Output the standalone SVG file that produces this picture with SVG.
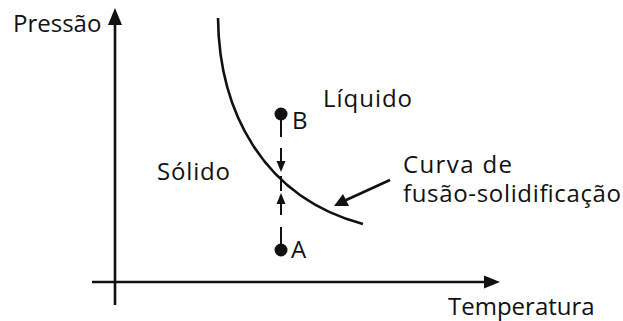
<svg xmlns="http://www.w3.org/2000/svg" width="623" height="321" viewBox="0 0 623 321">
<style>
text{font-family:"Open Sans","Noto Sans",sans-serif;font-size:24px;fill:#111}
.ax{stroke:#111;stroke-width:2.6;fill:none}
.cv{stroke:#111;stroke-width:2.6;fill:none}
.ds{stroke:#111;stroke-width:2;fill:none}
.hd{fill:#111;stroke:none}
</style>
<rect width="623" height="321" fill="#fff"/>
<g id="axes">
<line class="ax" x1="115" y1="305" x2="115" y2="22"/>
<polygon class="hd" points="115,8 108,25 122,25"/>
<line class="ax" x1="92" y1="282" x2="487" y2="282"/>
<polygon class="hd" points="500,282 484,275.5 484,288.5"/>
<text x="13" y="32">Pressão</text>
<text x="448" y="315">Temperatura</text>
</g>
<g id="curve">
<path class="cv" d="M218,18 C219,110 262,197 363,224"/>
</g>
<g id="solido"><text x="157" y="180" textLength="73" lengthAdjust="spacing">Sólido</text></g>
<g id="liquido"><text x="323" y="107" textLength="89" lengthAdjust="spacing">Líquido</text></g>
<g id="pointB"><circle cx="281" cy="114" r="6.5" fill="#111"/><text x="292" y="129">B</text></g>
<g id="pointA"><circle cx="281" cy="250" r="6.5" fill="#111"/><text x="291" y="258">A</text></g>
<g id="label"><text x="403" y="173" textLength="109" lengthAdjust="spacing">Curva de</text><text x="403" y="202" textLength="218" lengthAdjust="spacing">fusão-solidificação</text></g>
<g id="connectors">
<path class="ds" d="M281,118 V137 M281,148 V164 M281,176 V191 M281,202 V215 M281,227 V246"/>
<polygon class="hd" points="281,172 276.5,161 285.5,161"/>
<polygon class="hd" points="281,193 276.5,204 285.5,204"/>
<line class="ax" x1="390" y1="180" x2="344" y2="201"/>
<polygon class="hd" points="334,206 343,194 349,206"/>
</g>
</svg>
